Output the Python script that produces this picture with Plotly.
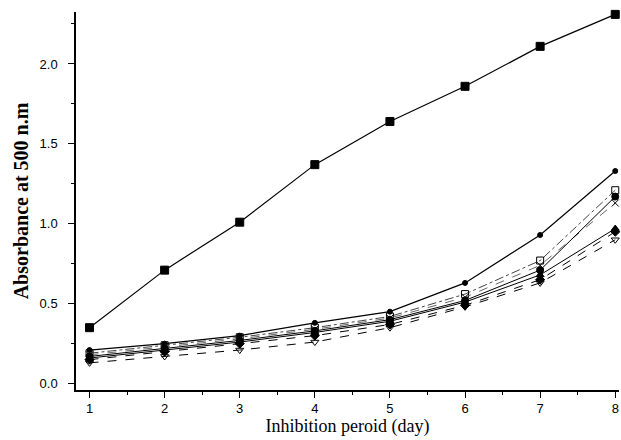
import plotly.graph_objects as go

days = [1, 2, 3, 4, 5, 6, 7, 8]
s1 = [0.35, 0.71, 1.01, 1.37, 1.64, 1.86, 2.11, 2.31]
s2 = [0.21, 0.25, 0.30, 0.38, 0.45, 0.63, 0.93, 1.33]
s3 = [0.19, 0.24, 0.29, 0.35, 0.42, 0.56, 0.77, 1.21]
s4 = [0.18, 0.23, 0.28, 0.34, 0.41, 0.54, 0.74, 1.13]
s5 = [0.17, 0.22, 0.27, 0.33, 0.40, 0.52, 0.71, 1.17]
s6 = [0.16, 0.21, 0.26, 0.32, 0.39, 0.51, 0.68, 0.97]
s7 = [0.15, 0.20, 0.25, 0.30, 0.37, 0.49, 0.65, 0.95]
s8 = [0.13, 0.17, 0.21, 0.26, 0.35, 0.48, 0.63, 0.90]

series = [
    (s1, "square", 8, "solid", "black", 1.2),
    (s2, "circle", 5, "solid", "black", 1.2),
    (s3, "square-open", 7, "dashdot", "#444", 1.0),
    (s4, "x-thin-open", 7, "dash", "#666", 1.0),
    (s5, "circle", 7, "solid", "black", 1.0),
    (s6, "triangle-up", 7, "solid", "black", 1.0),
    (s7, "diamond", 7, "dash", "black", 1.0),
    (s8, "triangle-down-open", 7, "dash", "black", 1.0),
]

fig = go.Figure()
for ys, sym, size, dash, col, w in series:
    fig.add_trace(go.Scatter(
        x=days, y=ys, mode="lines+markers",
        line=dict(color=col, width=w, dash=dash),
        marker=dict(symbol=sym, size=size, color="black",
                    line=dict(color="black", width=1)),
        showlegend=False, cliponaxis=False))

fig.update_layout(
    width=621, height=440,
    margin=dict(l=76, r=2, t=12, b=50),
    paper_bgcolor="white", plot_bgcolor="white",
    font=dict(family="Liberation Sans, Arial", size=13, color="black"),
)
fig.update_xaxes(
    range=[0.82, 8.05], tickmode="array", tickvals=days,
    ticktext=[str(d) for d in days],
    showline=True, linecolor="black", linewidth=1.5,
    ticks="outside", ticklen=6, tickcolor="black", showgrid=False, zeroline=False,
    minor=dict(ticks="outside", dtick=0.5, tick0=0.5, ticklen=3, tickcolor="black"),
    title=dict(text="Inhibition peroid (day)",
               font=dict(family="Liberation Serif, Times New Roman", size=18), standoff=4),
)
fig.update_yaxes(
    range=[-0.04, 2.325], tickmode="array", tickvals=[0, 0.5, 1.0, 1.5, 2.0],
    ticktext=["0.0", "0.5", "1.0", "1.5", "2.0"],
    showline=True, linecolor="black", linewidth=1.5, ticklabelstandoff=8,
    ticks="outside", ticklen=6, tickcolor="black", showgrid=False, zeroline=False,
    minor=dict(ticks="outside", dtick=0.25, ticklen=3, tickcolor="black"),
    title=dict(text="<b>Absorbance at 500 n.m</b>",
               font=dict(family="Liberation Serif, Times New Roman", size=20), standoff=6),
)

fig.write_html("out.html")
